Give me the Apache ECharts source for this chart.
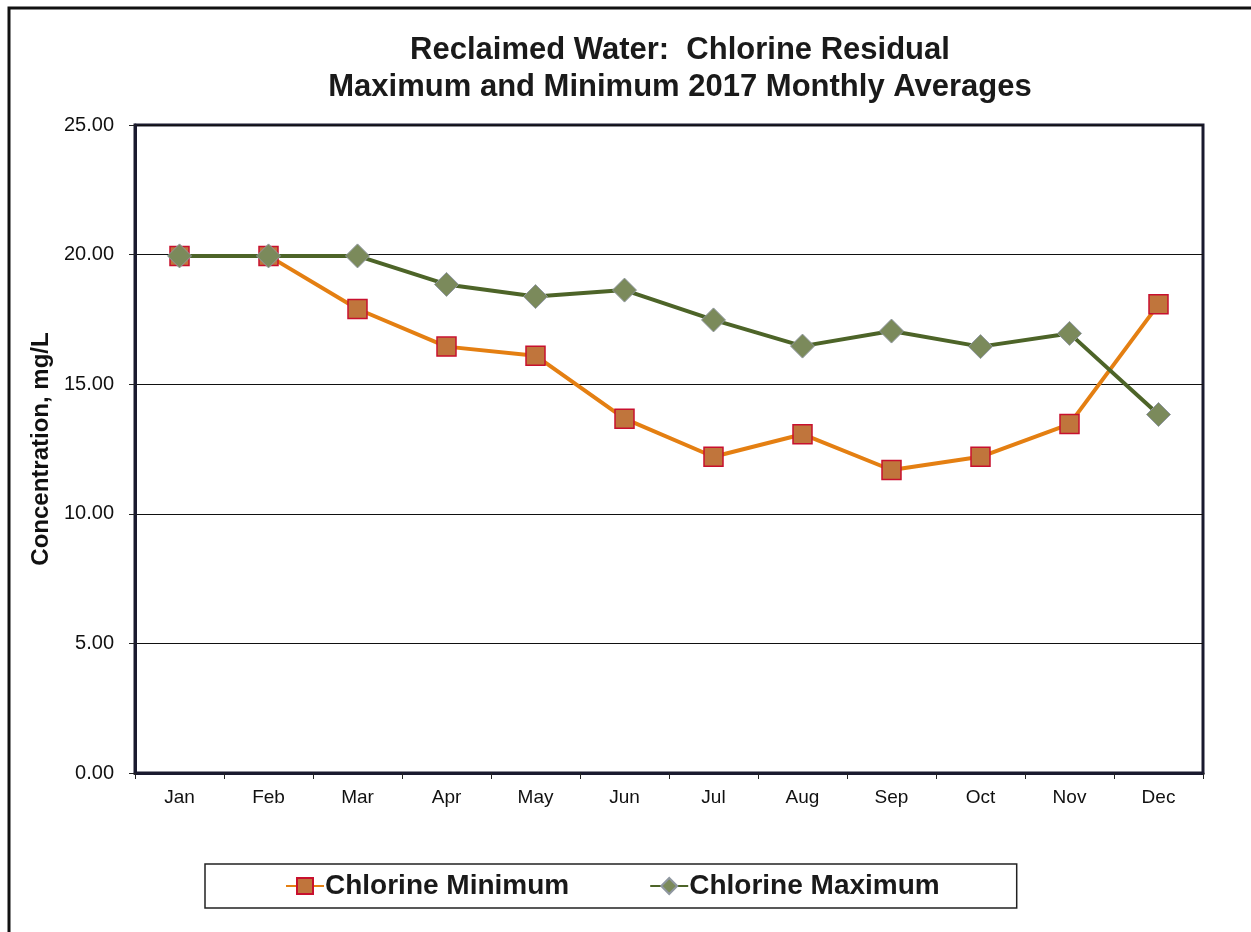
<!DOCTYPE html>
<html>
<head>
<meta charset="utf-8">
<script src="https://cdn.jsdelivr.net/npm/echarts@6/dist/echarts.min.js"></script>
<style>
html,body{margin:0;padding:0;background:#fff;}
#c{width:1251px;height:932px;}
</style>
</head>
<body>
<div id="c"></div>
<script>
var months = ['Jan','Feb','Mar','Apr','May','Jun','Jul','Aug','Sep','Oct','Nov','Dec'];
var chlorineMin = [19.95, 19.95, 17.90, 16.45, 16.10, 13.67, 12.20, 13.07, 11.69, 12.20, 13.46, 18.08];
var chlorineMax = [19.95, 19.95, 19.95, 18.85, 18.38, 18.63, 17.48, 16.47, 17.05, 16.45, 16.96, 13.83];
var titleLines = ['Reclaimed Water:  Chlorine Residual', 'Maximum and Minimum 2017 Monthly Averages'];
var yAxisName = 'Concentration, mg/L';

var chart = echarts.init(document.getElementById('c'), null, {renderer: 'canvas'});
var font = 'Arial, "Liberation Sans", sans-serif';
chart.setOption({
  animation: false,
  backgroundColor: '#fff',
  title: {
    text: titleLines.join('\n'),
    left: 675, textAlign: 'center', top: 27,
    textStyle: {fontFamily: font, fontSize: 31, fontWeight: 'bold', color: '#1a1a1a', lineHeight: 37}
  },
  graphic: [{
    type: 'rect', shape: {x: 9, y: 8, width: 1260, height: 940},
    style: {fill: 'none', stroke: '#111', lineWidth: 3}, silent: true
  }],
  grid: {
    left: 135, right: 48, top: 125, bottom: 159,
    show: true, borderColor: '#1a1a2e', borderWidth: 3, backgroundColor: '#fff'
  },
  legend: {
    left: 205, top: 864,
    padding: [8, 77, 8, 80],
    itemGap: 80,
    itemWidth: 38, itemHeight: 20,
    borderColor: '#222', borderWidth: 1.5,
    textStyle: {fontFamily: font, fontSize: 28, fontWeight: 'bold', color: '#1a1a1a', padding: [0,0,0,-4]},
    data: ['Chlorine Minimum', 'Chlorine Maximum']
  },
  xAxis: {
    type: 'category', data: months, boundaryGap: true,
    axisLine: {show: true, lineStyle: {color: '#1a1a2e', width: 3}},
    axisTick: {show: true, length: 6, lineStyle: {color: '#222', width: 1}},
    axisLabel: {fontFamily: font, fontSize: 19, color: '#111', margin: 15}
  },
  yAxis: {
    type: 'value', min: 0, max: 25, interval: 5,
    name: yAxisName, nameLocation: 'middle', nameGap: 78,
    nameTextStyle: {fontFamily: font, fontSize: 24, fontWeight: 'bold', color: '#111'},
    axisLine: {show: true, lineStyle: {color: '#1a1a2e', width: 3}},
    axisTick: {show: true, length: 6, lineStyle: {color: '#222', width: 1}},
    axisLabel: {fontFamily: font, fontSize: 20, color: '#111', margin: 21,
      formatter: function(v){ return v.toFixed(2); }},
    splitLine: {show: true, lineStyle: {color: '#111', width: 1.2}}
  },
  series: [{
    name: 'Chlorine Minimum', type: 'line', data: chlorineMin,
    symbol: 'rect', symbolSize: 19,
    lineStyle: {color: '#e47f12', width: 4},
    itemStyle: {color: '#c0753c', borderColor: '#c8102e', borderWidth: 1.5},
    z: 2
  }, {
    name: 'Chlorine Maximum', type: 'line', data: chlorineMax,
    symbol: 'diamond', symbolSize: 24,
    lineStyle: {color: '#4d6428', width: 4},
    itemStyle: {color: '#7b8a5b', borderColor: '#8f97a0', borderWidth: 1},
    z: 3
  }]
});
</script>
</body>
</html>
